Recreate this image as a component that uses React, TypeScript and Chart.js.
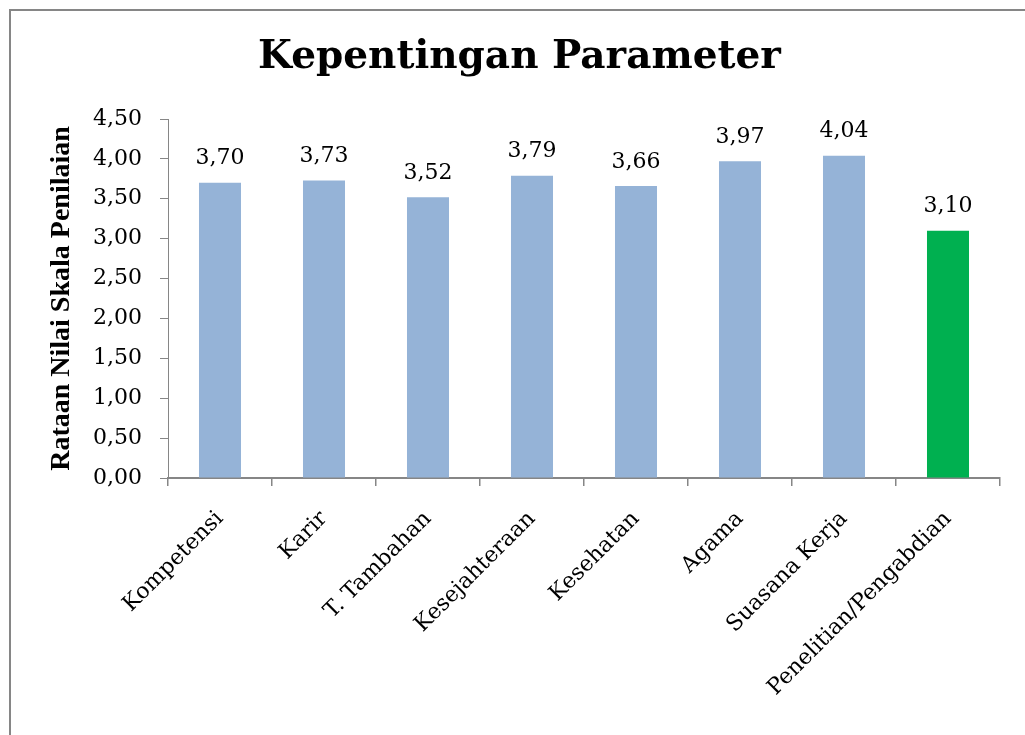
import { useEffect, useRef } from "react";
import { Chart, registerables } from "chart.js";

Chart.register(...registerables);

const TITLE = "Kepentingan Parameter";
const Y_TITLE = "Rataan Nilai Skala Penilaian";

const categories = [
  "Kompetensi",
  "Karir",
  "T. Tambahan",
  "Kesejahteraan",
  "Kesehatan",
  "Agama",
  "Suasana Kerja",
  "Penelitian/Pengabdian",
];

const values = [3.7, 3.73, 3.52, 3.79, 3.66, 3.97, 4.04, 3.1];

const barColors = [
  "#95B3D7",
  "#95B3D7",
  "#95B3D7",
  "#95B3D7",
  "#95B3D7",
  "#95B3D7",
  "#95B3D7",
  "#00B050",
];

const Y_MIN = 0;
const Y_MAX = 4.5;
const Y_STEP = 0.5;

const fmt = (v: number) => v.toFixed(2).replace(".", ",");

const SERIF = '"DejaVu Serif", serif';
const AXIS_GRAY = "#868686";

export default function App() {
  const ref = useRef<HTMLCanvasElement>(null);

  useEffect(() => {
    if (!ref.current) return;

    const framePlugin = {
      id: "frame",
      beforeDraw(chart: any) {
        const ctx = chart.ctx;
        ctx.save();
        ctx.fillStyle = "#ffffff";
        ctx.fillRect(0, 0, chart.width, chart.height);
        ctx.fillStyle = AXIS_GRAY;
        ctx.fillRect(9, 9, 2, chart.height);
        ctx.fillRect(9, 9, chart.width, 2);
        ctx.restore();
      },
    };

    const valueLabels = {
      id: "valueLabels",
      afterDatasetsDraw(chart: any) {
        const ctx = chart.ctx;
        const meta = chart.getDatasetMeta(0);
        ctx.save();
        ctx.font = `22px ${SERIF}`;
        ctx.fillStyle = "#000";
        ctx.textAlign = "center";
        ctx.textBaseline = "alphabetic";
        meta.data.forEach((el: any, i: number) => {
          ctx.fillText(fmt(values[i]), el.x, el.y - 18.5);
        });
        ctx.restore();
      },
    };

    const chart = new Chart(ref.current, {
      type: "bar",
      data: {
        labels: categories,
        datasets: [
          {
            data: values,
            backgroundColor: barColors,
            borderWidth: 0,
            barPercentage: 0.404,
            categoryPercentage: 1,
          },
        ],
      },
      options: {
        responsive: false,
        animation: false,
        devicePixelRatio: 1,
        layout: { padding: { left: 39, right: 25, top: 0, bottom: 0 } },
        plugins: {
          legend: { display: false },
          tooltip: { enabled: false },
          title: {
            display: true,
            text: TITLE,
            color: "#000",
            font: { family: SERIF, size: 39, weight: "bold", lineHeight: 1.2 },
            padding: { top: 34, bottom: 38.2 },
          },
        },
        scales: {
          x: {
            grid: {
              drawOnChartArea: false,
              drawTicks: true,
              tickLength: 8,
              color: AXIS_GRAY,
              lineWidth: 1.5,
              offset: true,
            },
            border: { display: true, color: AXIS_GRAY, width: 2 },
            ticks: {
              autoSkip: false,
              maxRotation: 45,
              minRotation: 45,
              padding: 20,
              color: "#000",
              font: { family: SERIF, size: 22 },
            },
            afterFit(scale: any) {
              scale.height = 257;
            },
          },
          y: {
            min: Y_MIN,
            max: Y_MAX,
            grid: {
              drawOnChartArea: false,
              drawTicks: true,
              tickLength: 8,
              color: AXIS_GRAY,
              lineWidth: 1,
            },
            border: { display: true, color: AXIS_GRAY, width: 1 },
            ticks: {
              stepSize: Y_STEP,
              padding: 18,
              color: "#000",
              font: { family: SERIF, size: 22 },
              callback: (v: any) => fmt(Number(v)),
            },
            title: {
              display: true,
              text: Y_TITLE,
              color: "#000",
              font: { family: '"Liberation Serif", serif', size: 28, weight: "bold", lineHeight: 1.2 },
              padding: { top: 6, bottom: 0 },
            },
            afterFit(scale: any) {
              scale.width = 129;
            },
          },
        },
      },
      plugins: [framePlugin, valueLabels],
    });

    return () => chart.destroy();
  }, []);

  return (
    <div style={{ position: "absolute", left: 0, top: 0, width: 1025, height: 735, overflow: "hidden", background: "#fff" }}>
      <canvas ref={ref} width={1025} height={735} style={{ display: "block", width: 1025, height: 735 }} />
    </div>
  );
}
